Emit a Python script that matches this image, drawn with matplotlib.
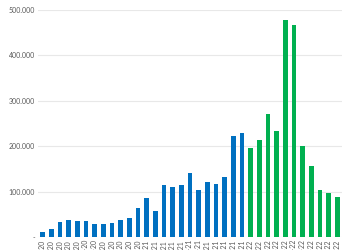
import numpy as np
import matplotlib
matplotlib.use("Agg")
import matplotlib.pyplot as plt

# monthly values, Jan 2020 - Nov 2022
months = ["ene", "feb", "mar", "abr", "may", "jun", "jul", "ago", "sep", "oct", "nov", "dic"]
labels = [f"{m}-{y}" for y in ("20", "21", "22") for m in months][:35]
vals_2020_21 = [10000, 18000, 33000, 38000, 35000, 36000, 28000, 29500, 31500, 36500, 41000, 64500,
                87000, 58000, 114500, 111000, 114500, 140000, 103500, 122000, 116000, 131500, 222000, 228000]
vals_2022 = [196500, 213000, 271500, 233000, 478000, 467500, 201000, 157000, 103500, 97500, 89000]
yticks = [0, 100000, 200000, 300000, 400000, 500000]

BLUE, GREEN, GRID, TXT = "#0070C0", "#00B050", "#E8E8E8", "#595959"

fig = plt.figure(figsize=(3.5, 2.5), dpi=100)
ax = fig.add_axes([38 / 350, 1 - 237 / 250, 304 / 350, 227 / 250])

x_a = np.arange(len(vals_2020_21))
x_b = np.arange(len(vals_2022)) + len(vals_2020_21)
ax.bar(x_a, vals_2020_21, width=0.56, color=BLUE, zorder=2)
ax.bar(x_b, vals_2022, width=0.56, color=GREEN, zorder=2)

ax.set_xlim(-0.54, 34.54)
ax.set_ylim(0, 500000)
ax.set_yticks(yticks)
ax.set_yticklabels(["-" if v == 0 else f"{v:,.0f}".replace(",", ".") for v in yticks],
                   fontsize=5, color=TXT, family="Lato")
# month labels run off the bottom edge, as in the original
ax.set_xticks(np.arange(len(labels)))
ax.set_xticklabels(labels, rotation=90, fontsize=5, color=TXT, family="Lato", va="top")
ax.tick_params(axis="both", length=0, pad=2)
ax.grid(axis="y", color=GRID, lw=0.8, zorder=0)
for s in ax.spines.values():
    s.set_visible(False)

fig.savefig("out.png", dpi=100)
